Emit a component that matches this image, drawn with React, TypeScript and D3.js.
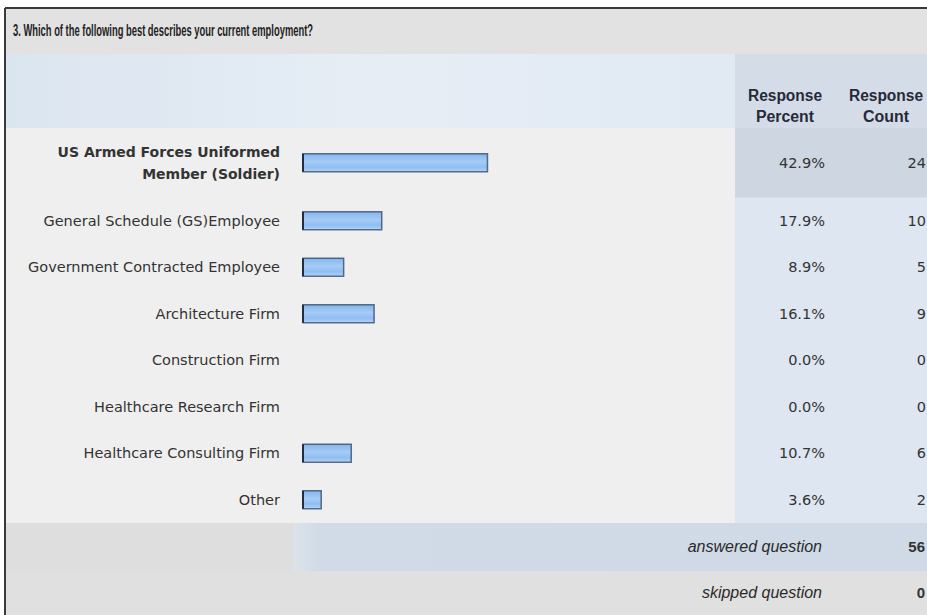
import React from "react";
import * as d3 from "d3";

const title = "3. Which of the following best describes your current employment?";
const categories = [
  "US Armed Forces Uniformed\nMember (Soldier)",
  "General Schedule (GS)Employee",
  "Government Contracted Employee",
  "Architecture Firm",
  "Construction Firm",
  "Healthcare Research Firm",
  "Healthcare Consulting Firm",
  "Other",
];
const percents = [42.9, 17.9, 8.9, 16.1, 0.0, 0.0, 10.7, 3.6];
const counts = [24, 10, 5, 9, 0, 0, 6, 2];
const headerPercent = ["Response", "Percent"];
const headerCount = ["Response", "Count"];
const footerLabels = ["answered question", "skipped question"];
const footerValues = [56, 0];

const W = 927;
const H = 615;
const LEFT = 6;
const TOP = 9;
const COLX = 735;
const HEADER_TOP = 54;
const ROWS_TOP = 128;
const ROW_H = 46.5;
const LINE_H = 23;
const BAR_X = 303;
const BAR_H = 18;
const LABEL_X = 280;
const PCT_X = 825;
const CNT_X = 926;

export default function App() {
  const lines = categories.map((c) => c.split("\n"));
  const heights = lines.map((l) => ROW_H + (l.length - 1) * LINE_H);
  const tops = heights.map((_, i) => ROWS_TOP + d3.sum(heights.slice(0, i)));
  const rowsBottom = ROWS_TOP + d3.sum(heights);
  const x = d3.scaleLinear().domain([0, 100]).range([3, 426]);
  const maxIdx = d3.maxIndex(counts);
  const fmt = d3.format(".1f");
  const font = "'DejaVu Sans', Verdana, sans-serif";
  const condensed = "'Liberation Sans Narrow', 'Liberation Sans', Arial, sans-serif";
  const footTop = rowsBottom;
  const footH = [48, H - (rowsBottom + 48)];

  return (
    <svg
      width={W}
      height={H}
      style={{ position: "absolute", left: 0, top: 0, background: "#ffffff" }}
    >
      <defs>
        <linearGradient id="barGrad" x1="0" y1="0" x2="0" y2="1">
          <stop offset="0%" stopColor="#86b6ef" />
          <stop offset="45%" stopColor="#a6cbf6" />
          <stop offset="75%" stopColor="#8fbdf3" />
          <stop offset="100%" stopColor="#b5d5f8" />
        </linearGradient>
        <linearGradient id="headGrad" x1="0" y1="0" x2="1" y2="0">
          <stop offset="0%" stopColor="#dbe5f0" />
          <stop offset="50%" stopColor="#e6edf5" />
          <stop offset="100%" stopColor="#e1e9f3" />
        </linearGradient>
        <linearGradient id="footGrad" x1="0" y1="0" x2="1" y2="0">
          <stop offset="0%" stopColor="#dde3ea" />
          <stop offset="4%" stopColor="#d0dbe7" />
          <stop offset="100%" stopColor="#cfdae6" />
        </linearGradient>
      </defs>

      {/* title band */}
      <rect x={LEFT} y={TOP} width={W - LEFT} height={HEADER_TOP - TOP} fill="#e2e2e2" />
      <text
        x={13}
        y={36}
        fontFamily={condensed}
        fontWeight="bold"
        fontSize={17}
        fill="#222"
        textLength={300}
        lengthAdjust="spacingAndGlyphs"
      >
        {title}
      </text>

      {/* header band */}
      <rect x={LEFT} y={HEADER_TOP} width={COLX - LEFT} height={ROWS_TOP - HEADER_TOP} fill="url(#headGrad)" />
      <rect x={COLX} y={HEADER_TOP} width={W - COLX} height={ROWS_TOP - HEADER_TOP} fill="#d4dce7" />
      {[headerPercent, headerCount].map((h, j) => (
        <g key={j}>
          {h.map((t, k) => (
            <text
              key={k}
              x={j === 0 ? 785 : 886}
              y={101 + k * 21}
              textAnchor="middle"
              fontFamily={condensed}
              fontWeight="bold"
              fontSize={16}
              fill="#262a38"
              textLength={k === 0 ? 74 : j === 0 ? 58 : 46}
              lengthAdjust="spacingAndGlyphs"
            >
              {t}
            </text>
          ))}
        </g>
      ))}

      {/* rows */}
      <rect x={LEFT} y={ROWS_TOP} width={COLX - LEFT} height={rowsBottom - ROWS_TOP} fill="#efefef" />
      <rect x={COLX} y={ROWS_TOP} width={W - COLX} height={rowsBottom - ROWS_TOP} fill="#dde6f1" />
      {categories.map((c, i) => {
        const top = tops[i];
        const h = heights[i];
        const cy = top + h / 2;
        const bold = i === maxIdx;
        const ls = lines[i];
        return (
          <g key={c}>
            {bold && <rect x={COLX} y={top} width={W - COLX} height={h} fill="#cdd6e1" />}
            {ls.map((t, k) => (
              <text
                key={k}
                x={LABEL_X}
                y={cy + (k - (ls.length - 1) / 2) * 22 + 5}
                textAnchor="end"
                fontFamily={font}
                fontSize={bold ? 14 : 14.5}
                fontWeight={bold ? "bold" : "normal"}
                fill="#333"
              >
                {t}
              </text>
            ))}
            {percents[i] > 0 && (
              <g>
                <rect
                  x={BAR_X}
                  y={cy - BAR_H / 2}
                  width={x(percents[i])}
                  height={BAR_H}
                  fill="url(#barGrad)"
                  stroke="#2d4460"
                  strokeOpacity={0.75}
                  strokeWidth={1.5}
                />
                <line
                  x1={BAR_X}
                  x2={BAR_X}
                  y1={cy - BAR_H / 2}
                  y2={cy + BAR_H / 2}
                  stroke="#1e2e44"
                  strokeWidth={2}
                />
              </g>
            )}
            <text
              x={PCT_X}
              y={cy + 5}
              textAnchor="end"
              fontFamily={font}
              fontSize={14.5}
              fill="#333"
            >
              {fmt(percents[i]) + "%"}
            </text>
            <text
              x={CNT_X}
              y={cy + 5}
              textAnchor="end"
              fontFamily={font}
              fontSize={14.5}
              fill="#333"
            >
              {counts[i]}
            </text>
          </g>
        );
      })}

      {/* footer */}
      <rect x={LEFT} y={footTop} width={W - LEFT} height={footH[0]} fill="#dedede" />
      <rect x={293} y={footTop} width={W - 293} height={footH[0]} fill="url(#footGrad)" />
      <rect x={LEFT} y={footTop + footH[0]} width={W - LEFT} height={footH[1]} fill="#e0e0e0" />
      {footerLabels.map((t, i) => {
        const cy = footTop + (i === 0 ? footH[0] / 2 : footH[0] + footH[1] / 2);
        return (
          <g key={t}>
            <text
              x={822}
              y={cy + 5}
              textAnchor="end"
              fontFamily={condensed}
              fontStyle="italic"
              fontSize={16}
              fill="#2a2a2a"
            >
              {t}
            </text>
            <text
              x={CNT_X - 1}
              y={cy + 5}
              textAnchor="end"
              fontFamily={condensed}
              fontWeight="bold"
              fontSize={15}
              fill="#333"
            >
              {footerValues[i]}
            </text>
          </g>
        );
      })}

      {/* outer border */}
      <line x1={LEFT - 1} x2={W} y1={TOP - 1} y2={TOP - 1} stroke="#3a3a3a" strokeWidth={2} />
      <line x1={LEFT - 1} x2={LEFT - 1} y1={TOP - 1} y2={H} stroke="#3a3a3a" strokeWidth={2} />
    </svg>
  );
}
